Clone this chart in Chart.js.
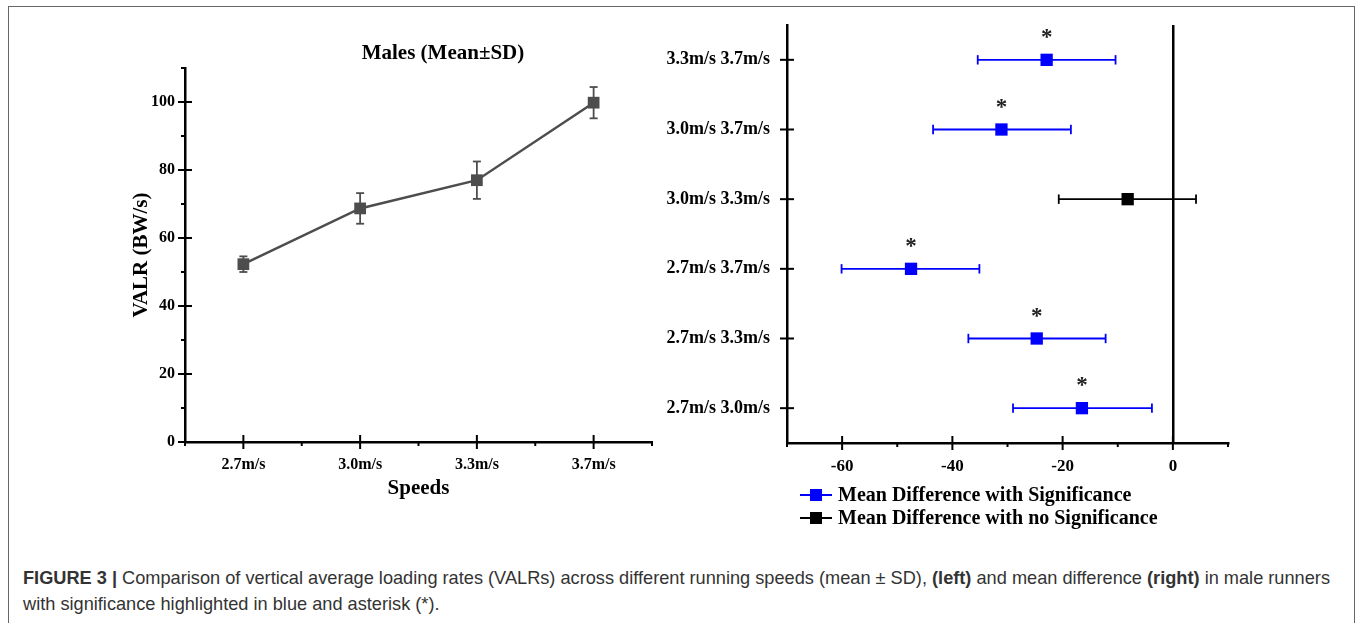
<!DOCTYPE html>
<html lang="en">
<head>
<meta charset="UTF-8">
<title>Figure 3 - VALR across running speeds</title>
<script src="https://cdnjs.cloudflare.com/ajax/libs/chart.js/4.4.1/chart.umd.min.js"></script>
<style>
    body {
        margin: 0;
        background: #fff;
        width: 1357px;
        height: 623px;
        overflow: hidden;
        position: relative;
        font-family: 'Liberation Sans', Arial, sans-serif;
    }

    .frame {
        position: absolute;
        left: 8px;
        top: 6px;
        width: 1347px;
        height: 640px;
        border: 1px solid #666;
        box-sizing: border-box;
    }

    .panel-title {
        position: absolute;
        left: 293px;
        top: 40px;
        width: 300px;
        text-align: center;
        font: bold 21px/25px 'Liberation Serif', 'Times New Roman', serif;
        color: #000;
    }

    #leftBox {
        position: absolute;
        left: 100px;
        top: 20px;
        width: 570px;
        height: 486px;
    }

    #rightBox {
        position: absolute;
        left: 650px;
        top: 10px;
        width: 600px;
        height: 540px;
    }

    .caption {
        position: absolute;
        left: 23px;
        top: 565px;
        font-size: 18.2px;
        line-height: 26px;
        color: #333;
        white-space: nowrap;
    }
</style>
</head>
<body>
<div class="frame"></div>
<div id="leftBox"><canvas id="valrChart"></canvas></div>
<div class="panel-title">Males (Mean±SD)</div>
<div id="rightBox"><canvas id="diffChart"></canvas></div>
<div class="caption"><b>FIGURE 3 |</b> Comparison of vertical average loading rates (VALRs) across different running speeds (mean ± SD), <b>(left)</b> and mean difference <b>(right)</b> in male runners<br>with significance highlighted in blue and asterisk (*).</div>

<script>
    // Left panel: VALR mean and SD per speed
    const speeds = ['2.7m/s', '3.0m/s', '3.3m/s', '3.7m/s'];
    const valrMean = [52.3, 68.7, 77.0, 99.8];
    const valrSD = [2.3, 4.5, 5.5, 4.6];
    const valrTicks = [0, 20, 40, 60, 80, 100];

    // Right panel: pairwise mean differences with confidence limits (top row first)
    const pairs = ['3.3m/s 3.7m/s', '3.0m/s 3.7m/s', '3.0m/s 3.3m/s', '2.7m/s 3.7m/s', '2.7m/s 3.3m/s', '2.7m/s 3.0m/s'];
    const meanDiff = [-22.9, -31.1, -8.2, -47.5, -24.7, -16.5];
    const ciLow = [-35.4, -43.5, -20.7, -60.1, -37.1, -29.0];
    const ciHigh = [-10.4, -18.5, 4.2, -35.1, -12.2, -3.8];
    const significant = [true, true, false, true, true, true];
    const diffTicks = [-60, -40, -20, 0];

    const SERIF = "'Liberation Serif', 'Times New Roman', serif";
    const GREY = '#4d4d4d';
    const BLUE = '#0000ff';

    Chart.defaults.font.family = SERIF;
    Chart.defaults.font.weight = 'bold';
    Chart.defaults.color = '#000';

    // major ticks cross the axis, minor ones are short and outside
    const axisTicks = {
        id: 'axisTicks',
        afterDraw(chart, args, opts) {
            const ctx = chart.ctx;
            ctx.save();
            ctx.strokeStyle = '#000';
            ctx.lineWidth = 2;
            Object.keys(opts.scales || {}).forEach(id => {
                const scale = chart.scales[id];
                const minor = opts.scales[id].minor;
                scale.ticks.forEach(t => {
                    const major = t.label !== '';
                    if (!major && !minor) return;
                    const p = scale.getPixelForValue(t.value);
                    const out = major ? 7 : 4;
                    const inn = major ? 7 : 0;
                    ctx.beginPath();
                    if (scale.isHorizontal()) {
                        ctx.moveTo(p, scale.top - inn);
                        ctx.lineTo(p, scale.top + out);
                    } else {
                        ctx.moveTo(scale.right - out, p);
                        ctx.lineTo(scale.right + inn, p);
                    }
                    ctx.stroke();
                });
            });
            ctx.restore();
        }
    };

    // asterisks over the significant differences
    const asterisks = {
        id: 'asterisks',
        afterDatasetsDraw(chart) {
            const ctx = chart.ctx;
            const xs = chart.scales.x, ys = chart.scales.y;
            ctx.save();
            ctx.font = 'bold 23px ' + SERIF;
            ctx.fillStyle = '#222';
            ctx.textAlign = 'center';
            ctx.textBaseline = 'alphabetic';
            meanDiff.forEach((v, i) => {
                if (!significant[i]) return;
                ctx.fillText('*', xs.getPixelForValue(v), ys.getPixelForValue(i) - 16);
            });
            ctx.restore();
        }
    };

    // stacked legend under the right panel
    const stackedLegend = {
        id: 'stackedLegend',
        afterDraw(chart, args, opts) {
            const ctx = chart.ctx, area = chart.chartArea;
            ctx.save();
            ctx.font = 'bold 20px ' + SERIF;
            ctx.textBaseline = 'middle';
            opts.items.forEach((dsIndex, row) => {
                const ds = chart.data.datasets[dsIndex];
                const x = area.left + opts.left;
                const y = area.bottom + opts.top + row * opts.rowHeight;
                ctx.strokeStyle = ds.borderColor;
                ctx.lineWidth = 2;
                ctx.beginPath();
                ctx.moveTo(x, y);
                ctx.lineTo(x + 32, y);
                ctx.stroke();
                ctx.fillStyle = ds.backgroundColor;
                ctx.fillRect(x + 10, y - 6, 12, 12);
                ctx.fillStyle = '#000';
                ctx.fillText(ds.label, x + 38, y + 1);
            });
            ctx.restore();
        }
    };

    function errorBar(points, color, rotation, capRadius) {
        return {
            data: points,
            showLine: true,
            borderColor: color,
            borderWidth: 1.8,
            pointStyle: 'line',
            rotation: rotation,
            pointRadius: capRadius,
            pointBorderColor: color,
            pointBorderWidth: 1.8,
            pointHoverRadius: capRadius
        };
    }

    // drop the label overhang so the plot area sits where the layout padding puts it
    function noOverhang(s) {
        s.paddingTop = 0;
        s.paddingBottom = 0;
    }

    // ---- left chart ----
    const leftSets = [{
        label: 'VALR',
        data: speeds.map((s, i) => ({ x: i, y: valrMean[i] })),
        showLine: true,
        borderColor: GREY,
        borderWidth: 2.5,
        pointStyle: 'rect',
        pointRadius: 8.3,
        pointHoverRadius: 8.3,
        pointBackgroundColor: GREY,
        pointBorderWidth: 0
    }];
    speeds.forEach((s, i) => {
        leftSets.push(errorBar([
            { x: i, y: valrMean[i] - valrSD[i] },
            { x: i, y: valrMean[i] + valrSD[i] }
        ], GREY, 0, 4));
    });

    new Chart(document.getElementById('valrChart'), {
        type: 'scatter',
        data: { datasets: leftSets },
        plugins: [axisTicks],
        options: {
            responsive: true,
            maintainAspectRatio: false,
            animation: false,
            layout: { padding: { left: 0, right: 18, top: 48, bottom: 0 } },
            plugins: {
                legend: { display: false },
                tooltip: { enabled: false },
                axisTicks: { scales: { x: { minor: true }, y: { minor: true } } }
            },
            scales: {
                x: {
                    type: 'linear',
                    min: -0.5,
                    max: 3.5,
                    afterFit: s => { s.height = 64; },
                    border: { display: true, color: '#000', width: 2.5 },
                    grid: { display: false, drawTicks: false },
                    ticks: {
                        stepSize: 0.5,
                        autoSkip: false,
                        maxRotation: 0,
                        padding: 13,
                        font: { size: 16 },
                        callback: v => Number.isInteger(v) ? speeds[v] : ''
                    },
                    title: {
                        display: true,
                        text: 'Speeds',
                        font: { size: 21, weight: 'bold' },
                        padding: { top: 0, bottom: 5 }
                    }
                },
                y: {
                    min: 0,
                    max: 110,
                    afterFit: s => { s.width = 85; noOverhang(s); },
                    border: { display: true, color: '#000', width: 2.5 },
                    grid: { display: false, drawTicks: false },
                    ticks: {
                        stepSize: 10,
                        autoSkip: false,
                        padding: 10,
                        font: { size: 16 },
                        callback: v => valrTicks.includes(v) ? v : ''
                    },
                    title: {
                        display: true,
                        text: 'VALR (BW/s)',
                        font: { size: 21, weight: 'bold' },
                        padding: { top: 29, bottom: 0 }
                    }
                }
            }
        }
    });

    // ---- right chart ----
    const rightSets = [
        {
            label: 'Mean Difference with Significance',
            data: pairs.map((p, i) => ({ x: meanDiff[i], y: i })).filter((d, i) => significant[i]),
            borderColor: BLUE,
            backgroundColor: BLUE,
            pointStyle: 'rect',
            pointRadius: 8.7,
            pointHoverRadius: 8.7,
            pointBorderWidth: 0
        },
        {
            label: 'Mean Difference with no Significance',
            data: pairs.map((p, i) => ({ x: meanDiff[i], y: i })).filter((d, i) => !significant[i]),
            borderColor: '#000',
            backgroundColor: '#000',
            pointStyle: 'rect',
            pointRadius: 8.7,
            pointHoverRadius: 8.7,
            pointBorderWidth: 0
        }
    ];
    pairs.forEach((p, i) => {
        rightSets.push(errorBar([
            { x: ciLow[i], y: i },
            { x: ciHigh[i], y: i }
        ], significant[i] ? BLUE : '#000', 90, 4.7));
    });

    new Chart(document.getElementById('diffChart'), {
        type: 'scatter',
        data: { datasets: rightSets },
        plugins: [axisTicks, asterisks, stackedLegend],
        options: {
            responsive: true,
            maintainAspectRatio: false,
            animation: false,
            layout: { padding: { left: 0, right: 22, top: 15, bottom: 60 } },
            plugins: {
                legend: { display: false },
                tooltip: { enabled: false },
                axisTicks: { scales: { x: { minor: true }, y: { minor: false } } },
                stackedLegend: { items: [0, 1], left: 13, top: 52, rowHeight: 23 }
            },
            scales: {
                x: {
                    type: 'linear',
                    min: -70,
                    max: 10,
                    afterFit: s => { s.height = 47; },
                    border: { display: true, color: '#000', width: 2.5 },
                    grid: {
                        drawTicks: false,
                        color: c => (c.tick && c.tick.value === 0) ? '#000' : 'rgba(0,0,0,0)',
                        lineWidth: 2.5
                    },
                    ticks: {
                        stepSize: 10,
                        autoSkip: false,
                        maxRotation: 0,
                        padding: 13,
                        font: { size: 17 },
                        callback: v => diffTicks.includes(v) ? v : ''
                    }
                },
                y: {
                    type: 'linear',
                    min: -0.5,
                    max: 5.5,
                    reverse: true,
                    afterFit: s => { s.width = 137; noOverhang(s); },
                    border: { display: true, color: '#000', width: 2.5 },
                    grid: { display: false, drawTicks: false },
                    ticks: {
                        stepSize: 0.5,
                        autoSkip: false,
                        padding: 17,
                        font: { size: 18 },
                        callback: v => Number.isInteger(v) ? pairs[v] : ''
                    }
                }
            }
        }
    });
</script>
</body>
</html>
